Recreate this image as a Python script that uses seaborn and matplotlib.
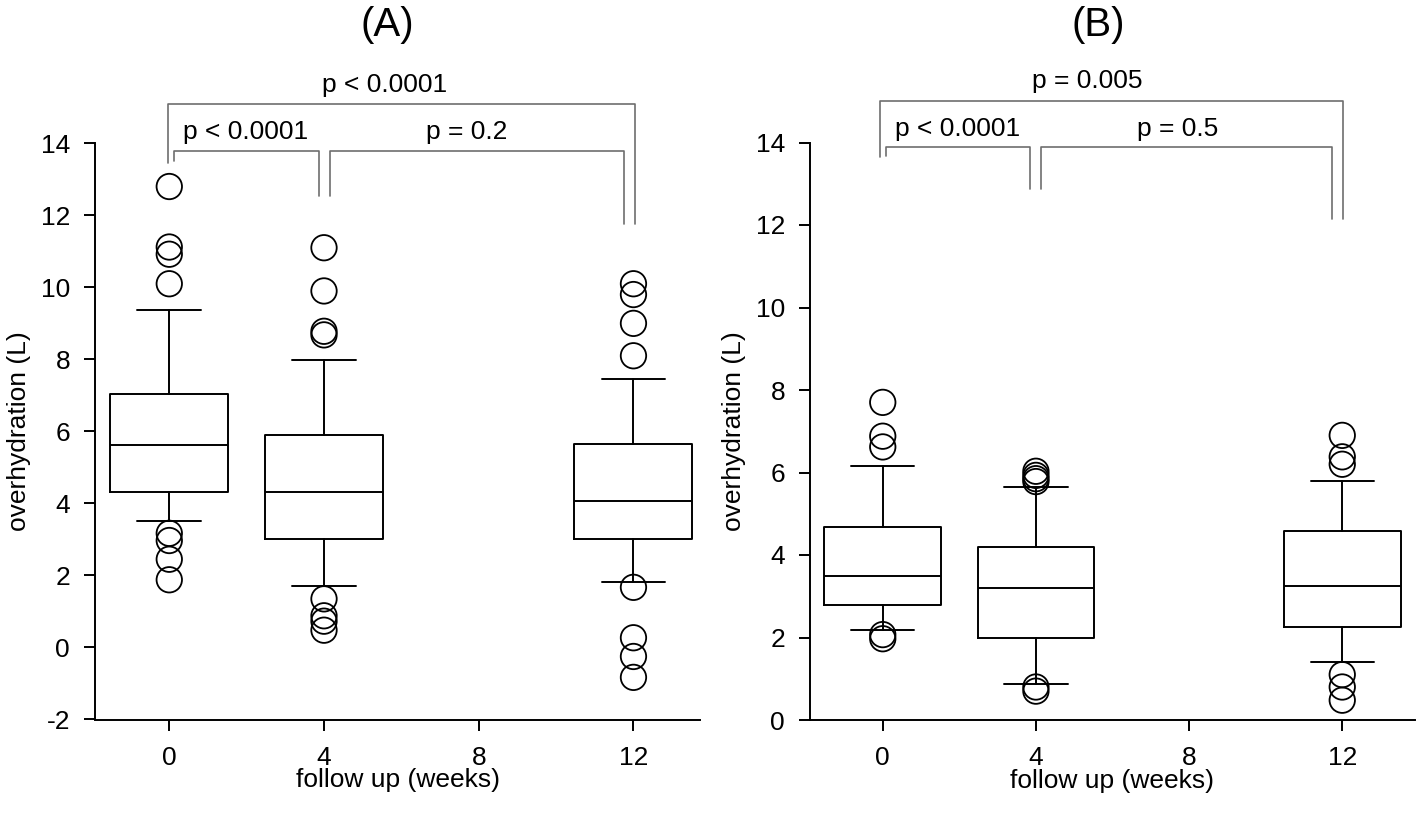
import numpy as np
import pandas as pd
import matplotlib
matplotlib.use("Agg")
import matplotlib.pyplot as plt
import seaborn as sns

# ---------------- data ----------------
weeks = [0, 4, 12]
xticks = [0, 4, 8, 12]

# panel A summary statistics (L)
a_whislo = [3.50, 1.72, 1.82]
a_q1 = [4.33, 3.00, 3.00]
a_med = [5.62, 4.32, 4.08]
a_q3 = [7.04, 5.90, 5.65]
a_whishi = [9.37, 7.97, 7.45]
a_fliers = [
    [12.80, 11.12, 10.92, 10.10, 3.17, 2.97, 2.45, 1.88],
    [11.10, 9.90, 8.78, 8.68, 1.35, 0.88, 0.73, 0.48],
    [10.10, 9.80, 9.00, 8.10, 1.67, 0.27, -0.25, -0.83],
]

# panel B summary statistics (L)
b_whislo = [2.18, 0.88, 1.40]
b_q1 = [2.80, 2.00, 2.25]
b_med = [3.50, 3.20, 3.25]
b_q3 = [4.67, 4.20, 4.57]
b_whishi = [6.15, 5.65, 5.80]
b_fliers = [
    [7.70, 6.88, 6.62, 2.07, 1.97],
    [6.03, 5.93, 5.85, 5.78, 0.80, 0.70],
    [6.90, 6.38, 6.20, 1.10, 0.80, 0.48],
]

a_pvals = ["p < 0.0001", "p < 0.0001", "p = 0.2"]
b_pvals = ["p = 0.005", "p < 0.0001", "p = 0.5"]

# ---------------- style ----------------
sns.set_theme(style="ticks")
plt.rcParams["font.family"] = ["Liberation Sans", "DejaVu Sans"]
plt.rcParams["text.color"] = "black"

FS = 19
LW = 1.4
GRAY = "#6e6e6e"

fig = plt.figure(figsize=(14.18, 8.19), dpi=100)
W, H = 1418, 819


def make_axes(l, r, t, b):
    return fig.add_axes([l / W, 1 - b / H, (r - l) / W, (b - t) / H])


axA = make_axes(95, 700, 143.3, 719.5)
axB = make_axes(810, 1415, 142.5, 720)


def draw_panel(ax, whislo, q1, med, q3, whishi, fliers, ylim, yticks, xlim):
    stats = []
    for i, w in enumerate(weeks):
        stats.append(dict(med=med[i], q1=q1[i], q3=q3[i],
                          whislo=whislo[i], whishi=whishi[i], fliers=[]))
    ax.bxp(stats, positions=weeks, widths=3.05, capwidths=1.65,
           showfliers=False, patch_artist=False,
           boxprops=dict(color="black", linewidth=LW),
           medianprops=dict(color="black", linewidth=LW),
           whiskerprops=dict(color="black", linewidth=LW),
           capprops=dict(color="black", linewidth=LW),
           manage_ticks=False)
    fl = pd.DataFrame({
        "week": [w for w, f in zip(weeks, fliers) for _ in f],
        "value": [v for f in fliers for v in f],
    })
    sns.scatterplot(data=fl, x="week", y="value", ax=ax, s=18.3 ** 2,
                    facecolor="none", edgecolor="black", linewidth=1.3,
                    marker="o", legend=False, clip_on=False, zorder=3)
    ax.set_xlim(*xlim)
    ax.set_ylim(*ylim)
    ax.set_xticks(xticks)
    ax.set_yticks(yticks)
    ax.set_xticklabels([str(x) for x in xticks])
    ax.set_yticklabels([str(y) for y in yticks])
    sns.despine(ax=ax)
    for s in ["left", "bottom"]:
        ax.spines[s].set_linewidth(LW)
        ax.spines[s].set_color("black")
    ax.tick_params(axis="both", length=8, width=LW, color="black",
                   labelsize=FS, labelcolor="black", direction="out")
    ax.tick_params(axis="x", pad=11)
    ax.tick_params(axis="y", pad=10)
    ax.set_xlabel("follow up (weeks)", fontsize=FS, labelpad=-1, color="black")
    ax.set_ylabel("overhydration (L)", fontsize=FS, labelpad=7, color="black")
    ax.set_facecolor("white")


def bracket(ax, x1, x2, y_top, y_left, y_right, text, tx, ty):
    ax.plot([x1, x1, x2, x2], [y_left, y_top, y_top, y_right],
            color=GRAY, linewidth=1.2, clip_on=False, zorder=2)
    ax.text(tx, ty, text, ha="center", va="center", fontsize=FS,
            color="black", clip_on=False)


draw_panel(axA, a_whislo, a_q1, a_med, a_q3, a_whishi, a_fliers,
           (-2, 14), list(range(-2, 15, 2)), (-1.92, 13.72))
draw_panel(axB, b_whislo, b_q1, b_med, b_q3, b_whishi, b_fliers,
           (0, 14), list(range(0, 15, 2)), (-1.9, 13.9))

# panel A brackets
bracket(axA, -0.03, 12.05, 15.1, 13.45, 11.75, a_pvals[0], 5.57, 15.62)
bracket(axA, 0.13, 3.86, 13.8, 13.5, 12.55, a_pvals[1], 1.97, 14.3)
bracket(axA, 4.16, 11.76, 13.8, 12.55, 11.77, a_pvals[2], 7.7, 14.3)

# panel B brackets
bracket(axB, -0.06, 12.03, 15.0, 13.64, 12.15, b_pvals[0], 5.35, 15.5)
bracket(axB, 0.09, 3.85, 13.9, 13.68, 12.87, b_pvals[1], 1.95, 14.33)
bracket(axB, 4.14, 11.74, 13.9, 12.87, 12.15, b_pvals[2], 7.69, 14.33)

fig.text(387 / W, 1 - 25 / H, "(A)", ha="center", va="center", fontsize=29,
         color="black")
fig.text(1098 / W, 1 - 25 / H, "(B)", ha="center", va="center", fontsize=29,
         color="black")

fig.savefig("out.png", dpi=100, facecolor="white")
